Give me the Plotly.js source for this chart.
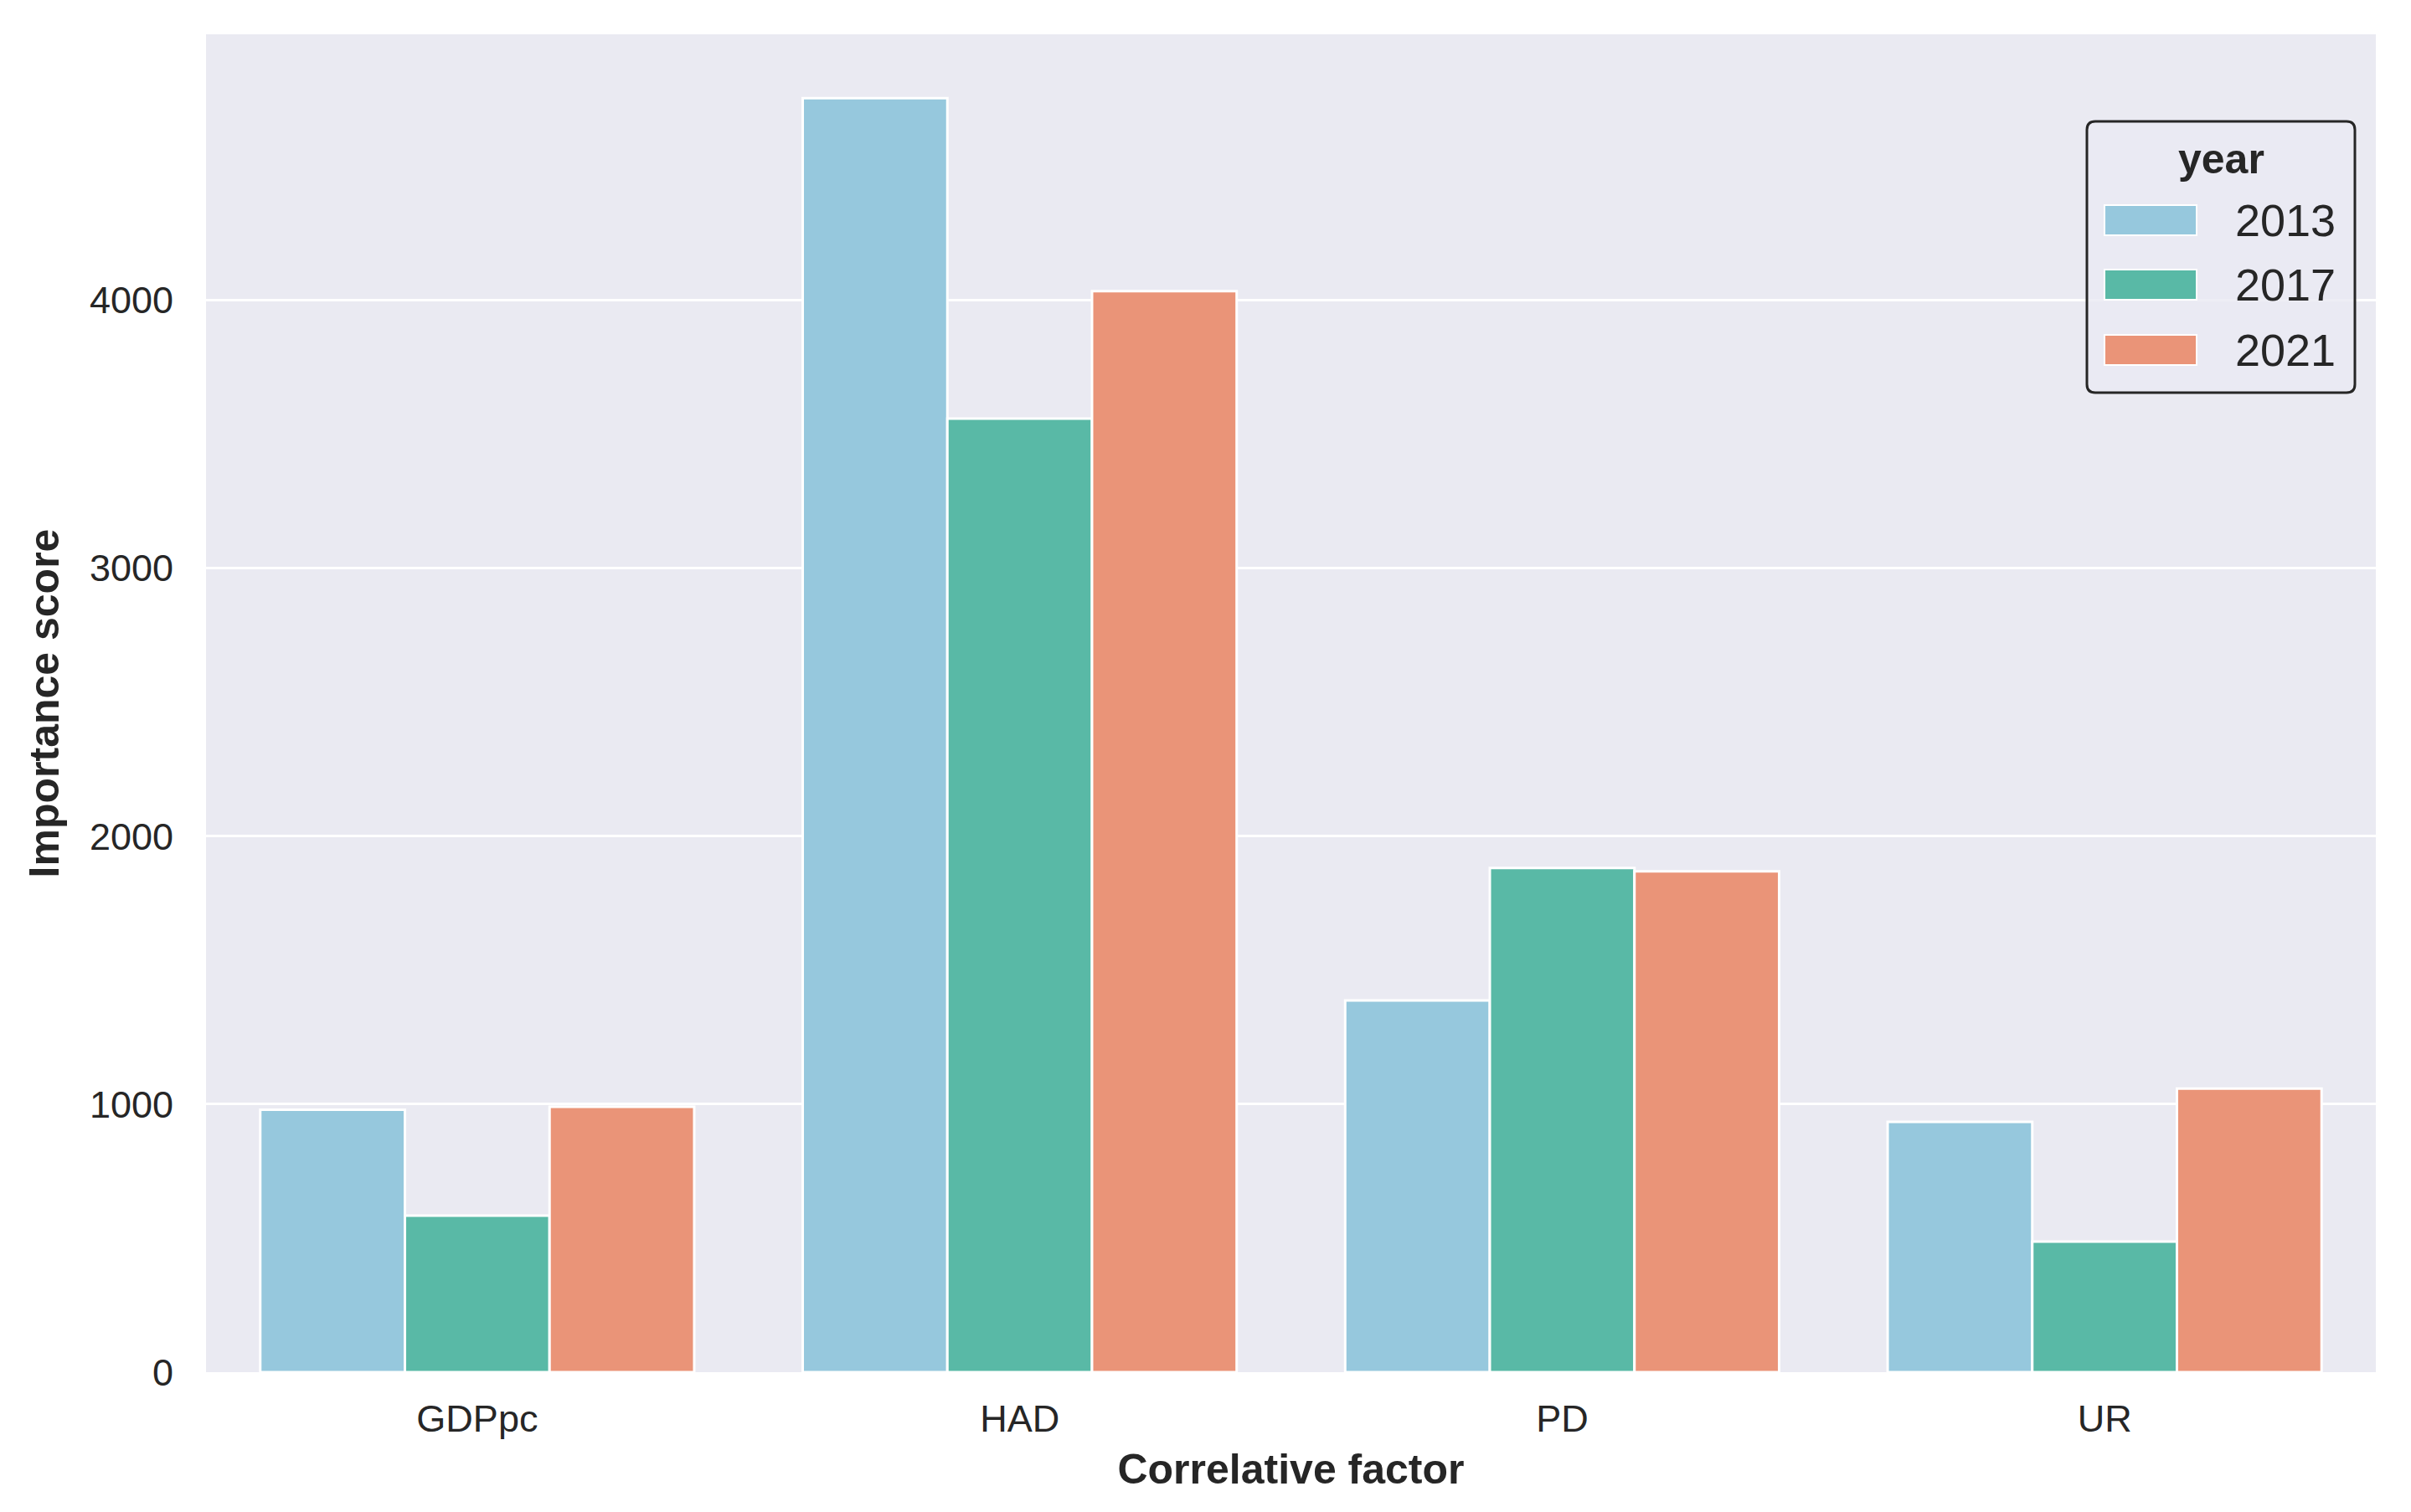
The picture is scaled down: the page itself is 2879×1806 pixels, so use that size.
<!DOCTYPE html>
<html>
<head>
<meta charset="utf-8">
<script src="https://cdn.plot.ly/plotly-3.0.1.min.js"></script>
<style>html,body{margin:0;padding:0;background:#fff;}#chart{width:2879px;height:1806px;}</style>
</head>
<body>
<div id="chart"></div>
<script>
const categories = ["GDPpc", "HAD", "PD", "UR"];
const years = ["2013", "2017", "2021"];
const values2013 = [979, 4754, 1387, 934];
const values2017 = [584, 3558, 1881, 487];
const values2021 = [990, 4034, 1869, 1058];
const colors = ["#96C8DD", "#59B9A6", "#EA9478"];
const yTicks = [0, 1000, 2000, 3000, 4000];

const series = [values2013, values2017, values2021];
const traces = series.map((vals, i) => ({
  type: "bar",
  name: years[i],
  x: categories,
  y: vals,
  marker: {color: colors[i], line: {color: "#FFFFFF", width: 3}},
  showlegend: false,
  hoverinfo: "x+y+name"
}));

const font = "Liberation Sans, Arial, sans-serif";

// Custom legend (box, swatches, labels) built from years/colors, in paper coordinates
const plotL = 246, plotR = 2837, plotT = 41, plotB = 1639;
const px2x = p => (p - plotL) / (plotR - plotL);
const px2y = p => (plotB - p) / (plotB - plotT);
const shapes = [];
const annotations = [];
// rounded box path
const bx0 = px2x(2492), bx1 = px2x(2812), by1 = px2y(145), by0 = px2y(469);
const rx = 10 / (plotR - plotL), ry = 10 / (plotB - plotT);
const boxPath = `M ${bx0 + rx},${by1} L ${bx1 - rx},${by1} Q ${bx1},${by1} ${bx1},${by1 - ry} ` +
  `L ${bx1},${by0 + ry} Q ${bx1},${by0} ${bx1 - rx},${by0} L ${bx0 + rx},${by0} Q ${bx0},${by0} ${bx0},${by0 + ry} ` +
  `L ${bx0},${by1 - ry} Q ${bx0},${by1} ${bx0 + rx},${by1} Z`;
shapes.push({type: "path", xref: "paper", yref: "paper", path: boxPath,
  line: {color: "#262626", width: 3}, fillcolor: "rgba(234,234,242,0.8)", layer: "above"});
annotations.push({xref: "paper", yref: "paper", x: (bx0 + bx1) / 2, y: px2y(190), text: "<b>year</b>",
  showarrow: false, xanchor: "center", yanchor: "middle", font: {family: font, size: 50, color: "#262626"}});
const rowPx = [263, 340, 418];
years.forEach((yr, i) => {
  const yc = px2y(rowPx[i]);
  const h = 18 / (plotB - plotT);
  shapes.push({type: "rect", xref: "paper", yref: "paper", x0: px2x(2513), x1: px2x(2623),
    y0: yc - h, y1: yc + h, fillcolor: colors[i], line: {color: "#FFFFFF", width: 2}, layer: "above"});
  annotations.push({xref: "paper", yref: "paper", x: px2x(2667), y: yc, text: yr, showarrow: false,
    xanchor: "left", yanchor: "middle", font: {family: font, size: 54, color: "#262626"}});
});

const layout = {
  width: 2879,
  height: 1806,
  margin: {l: plotL, r: 2879 - plotR, t: plotT, b: 1806 - plotB, pad: 0},
  paper_bgcolor: "#FFFFFF",
  plot_bgcolor: "#EAEAF2",
  barmode: "group",
  bargap: 0.2,
  bargroupgap: 0,
  font: {family: font, color: "#262626"},
  xaxis: {
    type: "category",
    range: [-0.5, 3.5],
    showgrid: false,
    zeroline: false,
    showline: false,
    ticks: "",
    tickfont: {family: font, size: 45, color: "#262626"},
    ticklabelstandoff: 25,
    title: {text: "<b>Correlative factor</b>", font: {family: font, size: 50, color: "#262626"}, standoff: 17}
  },
  yaxis: {
    range: [0, 4992],
    tickvals: yTicks,
    ticktext: yTicks.map(String),
    showgrid: true,
    gridcolor: "#FFFFFF",
    gridwidth: 3,
    zeroline: false,
    showline: false,
    ticks: "",
    tickfont: {family: font, size: 45, color: "#262626"},
    ticklabelstandoff: 38,
    title: {text: "<b>Importance score</b>", font: {family: font, size: 50, color: "#262626"}, standoff: 20}
  },
  shapes: shapes,
  annotations: annotations,
  showlegend: false
};

Plotly.newPlot("chart", traces, layout, {displayModeBar: false, staticPlot: true});
</script>
</body>
</html>
